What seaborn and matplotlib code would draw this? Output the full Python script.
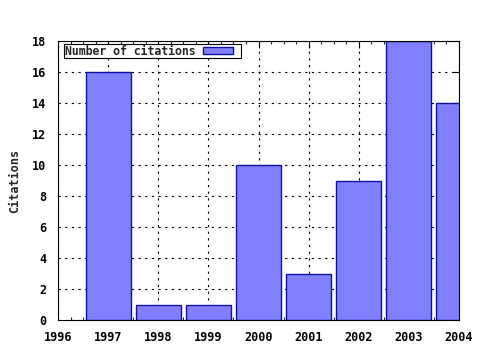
import matplotlib
matplotlib.use("Agg")
import matplotlib.pyplot as plt
import seaborn as sns
import pandas as pd
from matplotlib.ticker import MultipleLocator, AutoMinorLocator
from matplotlib.legend_handler import HandlerPatch
from matplotlib.patches import Rectangle

years = [1997, 1998, 1999, 2000, 2001, 2002, 2003, 2004]
citations = [16, 1, 1, 10, 3, 9, 18, 14]
series_label = "Number of citations"
y_label = "Citations"

sns.set_style("white")
plt.rcParams['font.family'] = ['DejaVu Sans Mono']
plt.rcParams['font.weight'] = 'bold'

df = pd.DataFrame({"year": years, "citations": citations})

fig = plt.figure(figsize=(4.8, 3.5), dpi=100)
ax = fig.add_axes([58/480, 1-320/350, (459-58)/480, (320-41)/350])

sns.barplot(data=df, x="year", y="citations", native_scale=True, width=0.9,
            color="#8080ff", saturation=1, edgecolor="#1010a0", linewidth=1.0,
            label=series_label, ax=ax)

ax.set_xlim(1996, 2004)
ax.set_ylim(0, 18)
ax.xaxis.set_major_locator(MultipleLocator(1))
ax.xaxis.set_minor_locator(AutoMinorLocator(4))
ax.yaxis.set_major_locator(MultipleLocator(2))
ax.set_axisbelow(True)
ax.grid(True, which="major", color="black", linestyle=(0, (2, 4)), linewidth=0.8)
ax.tick_params(axis="both", which="major", direction="in", length=5, width=0.8,
               top=True, right=True, labelsize=8.5, colors="black")
ax.tick_params(axis="y", which="major", pad=8.5)
ax.tick_params(axis="x", which="major", pad=8)
ax.tick_params(axis="x", which="minor", direction="in", length=2.5, width=0.8,
               top=True, bottom=True)
for lab in ax.get_xticklabels() + ax.get_yticklabels():
    lab.set_fontweight("bold")
ax.xaxis.set_major_formatter(matplotlib.ticker.FuncFormatter(lambda v, p: f"{int(round(v))}"))
for s in ax.spines.values():
    s.set_color("black")
    s.set_linewidth(0.8)
    s.set_visible(True)
ax.set_xlabel("")
ax.set_ylabel(y_label, fontsize=8.5, fontweight="bold", labelpad=8)


def sample_patch(legend, orig_handle, xdescent, ydescent, width, height, fontsize):
    return Rectangle((-xdescent, -ydescent), width - 5.5, height)


handles, labels = ax.get_legend_handles_labels()
bar_handle = handles[0].patches[0]
leg = ax.legend([bar_handle], labels, loc="upper left", bbox_to_anchor=(6/401, 1-3/279),
                markerfirst=False, frameon=True, fancybox=False, edgecolor="black",
                framealpha=1, prop={"size": 8.3, "weight": "bold"}, borderaxespad=0,
                borderpad=0.05, handlelength=3.3, handleheight=0.55, handletextpad=0.65,
                handler_map={type(bar_handle): HandlerPatch(patch_func=sample_patch)})
leg.get_frame().set_linewidth(0.8)

fig.savefig("out.png", dpi=100)
